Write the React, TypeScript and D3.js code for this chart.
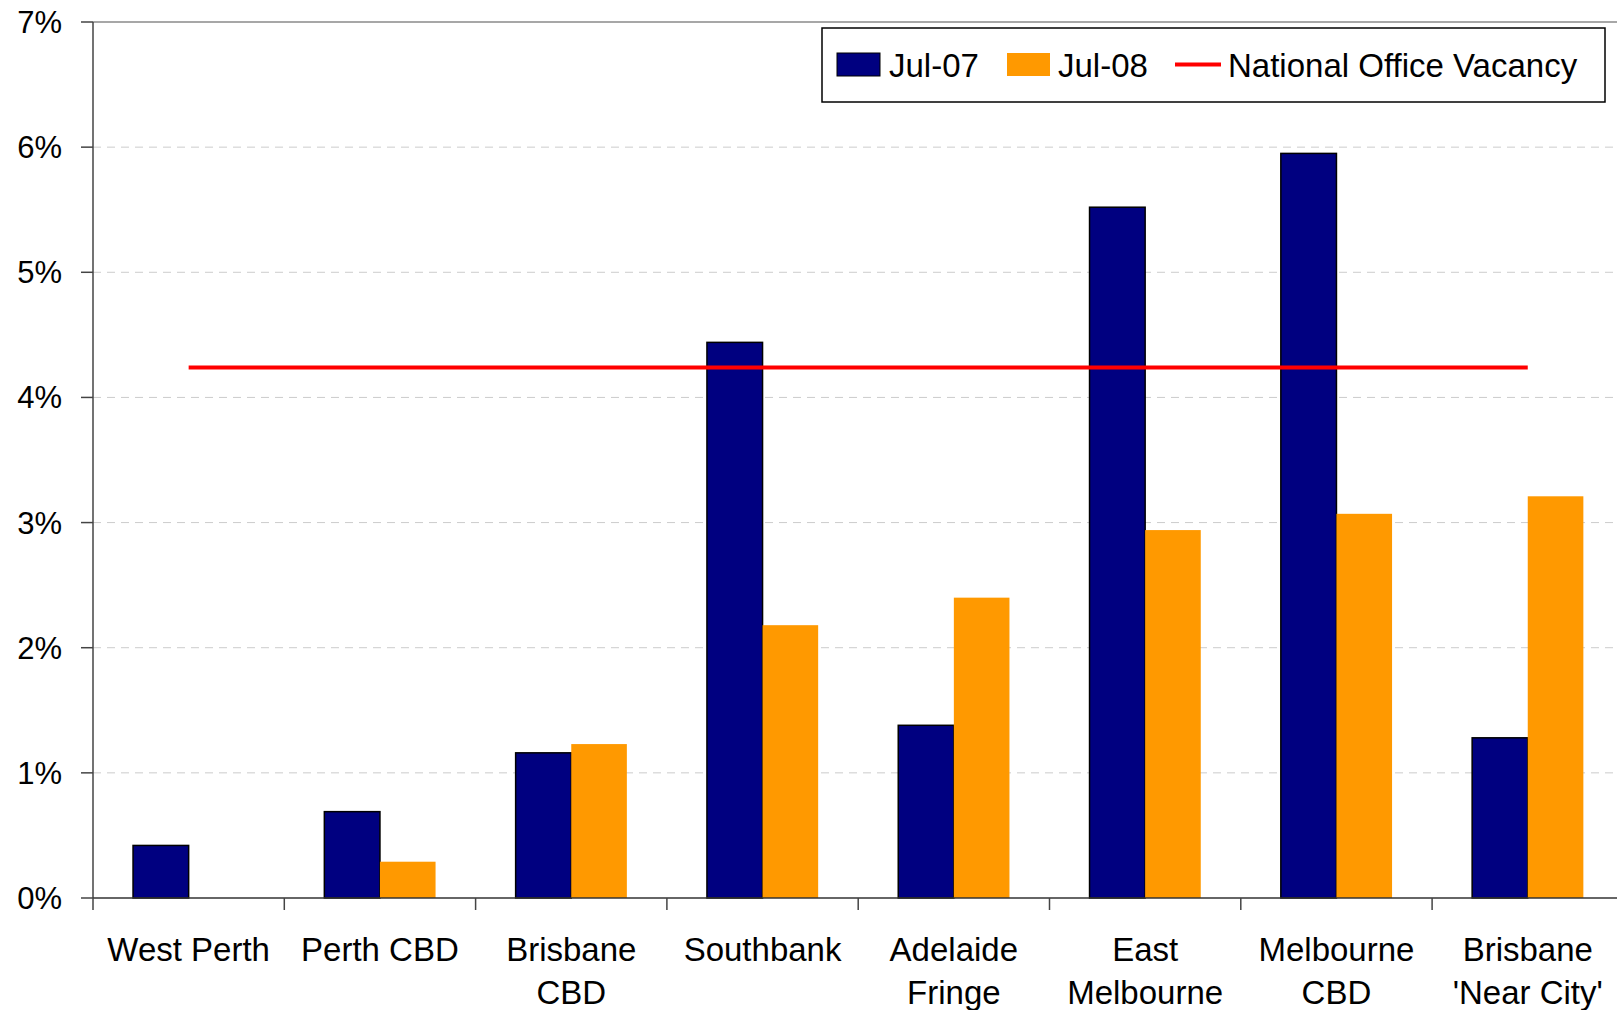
import * as d3 from "d3";

const categories = [
  "West Perth",
  "Perth CBD",
  "Brisbane\nCBD",
  "Southbank",
  "Adelaide\nFringe",
  "East\nMelbourne",
  "Melbourne\nCBD",
  "Brisbane\n'Near City'",
];
const seriesNames = ["Jul-07", "Jul-08"];
const jul07 = [0.42, 0.69, 1.16, 4.44, 1.38, 5.52, 5.95, 1.28];
const jul08 = [0, 0.29, 1.23, 2.18, 2.4, 2.94, 3.07, 3.21];
const nationalVacancy = 4.24;
const yTicks = [0, 1, 2, 3, 4, 5, 6, 7];

const colors: Record<string, string> = { "Jul-07": "#000080", "Jul-08": "#FF9900" };
const FONT = "'Liberation Sans', Arial, Helvetica, sans-serif";

export default function App() {
  const width = 1617;
  const height = 1010;
  const left = 93;
  const step = 191.3;
  const top = 22;
  const bottom = 898;

  const x = d3
    .scaleBand<string>()
    .domain(categories)
    .range([left, left + step * categories.length])
    .padding(0);
  const sub = d3
    .scaleBand<string>()
    .domain(seriesNames)
    .range([0, x.bandwidth()])
    .paddingInner(0)
    .paddingOuter(0.72);
  const y = d3.scaleLinear().domain([0, 7]).range([bottom, top]);

  const values: Record<string, number[]> = { "Jul-07": jul07, "Jul-08": jul08 };

  const firstC = x(categories[0])! + x.bandwidth() / 2;
  const lastC = x(categories[categories.length - 1])! + x.bandwidth() / 2;

  return (
    <div style={{ position: "absolute", left: 0, top: 0 }}>
      <svg width={width} height={height} style={{ display: "block", fontFamily: FONT }}>
        <rect width={width} height={height} fill="#fff" />
        {/* gridlines */}
        {yTicks.slice(1, -1).map((t) => (
          <line
            key={"g" + t}
            x1={left}
            x2={width}
            y1={y(t)}
            y2={y(t)}
            stroke="#cccccc"
            strokeWidth={1}
            strokeDasharray="8 6"
          />
        ))}
        <line x1={left} x2={width} y1={y(7)} y2={y(7)} stroke="#8a8a8a" strokeWidth={1.5} />

        {/* bars */}
        {categories.map((c, i) =>
          seriesNames.map((s) => {
            const v = values[s][i];
            if (!v) return null;
            const bx = x(c)! + sub(s)!;
            return (
              <rect
                key={c + s}
                x={bx}
                y={y(v)}
                width={sub.bandwidth()}
                height={y(0) - y(v)}
                fill={colors[s]}
                stroke={s === "Jul-07" ? "#000" : "none"}
                strokeWidth={1.5}
              />
            );
          })
        )}

        {/* national vacancy line */}
        <line
          x1={firstC}
          x2={lastC}
          y1={y(nationalVacancy)}
          y2={y(nationalVacancy)}
          stroke="#FF0000"
          strokeWidth={4}
        />

        {/* y axis */}
        <line x1={left} x2={left} y1={top} y2={bottom} stroke="#444" strokeWidth={1.5} />
        {yTicks.map((t) => (
          <g key={"y" + t}>
            <line x1={left - 12} x2={left} y1={y(t)} y2={y(t)} stroke="#444" strokeWidth={1.5} />
            <text x={62} y={y(t) + 11} textAnchor="end" fontSize={31} fill="#000">
              {t + "%"}
            </text>
          </g>
        ))}

        {/* x axis */}
        <line x1={left} x2={width} y1={bottom} y2={bottom} stroke="#333" strokeWidth={1.5} />
        {categories.map((c) => (
          <line
            key={"t" + c}
            x1={x(c)!}
            x2={x(c)!}
            y1={bottom}
            y2={bottom + 12}
            stroke="#444"
            strokeWidth={1.5}
          />
        ))}
        {categories.map((c) => {
          const cx = x(c)! + x.bandwidth() / 2;
          return (
            <text key={"l" + c} textAnchor="middle" fontSize={33} fill="#000">
              {c.split("\n").map((ln, k) => (
                <tspan key={k} x={cx} y={961 + k * 43}>
                  {ln}
                </tspan>
              ))}
            </text>
          );
        })}

        {/* legend */}
        <rect x={822} y={28} width={783} height={74} fill="#fff" stroke="#000" strokeWidth={1.5} />
        <rect x={837} y={53} width={43} height={23} fill={colors["Jul-07"]} stroke="#000" strokeWidth={1} />
        <text x={889} y={77} fontSize={33}>Jul-07</text>
        <rect x={1007} y={53} width={43} height={23} fill={colors["Jul-08"]} />
        <text x={1058} y={77} fontSize={33}>Jul-08</text>
        <line x1={1175} x2={1221} y1={64.5} y2={64.5} stroke="#FF0000" strokeWidth={4} />
        <text x={1228} y={77} fontSize={33}>National Office Vacancy</text>
      </svg>
    </div>
  );
}
